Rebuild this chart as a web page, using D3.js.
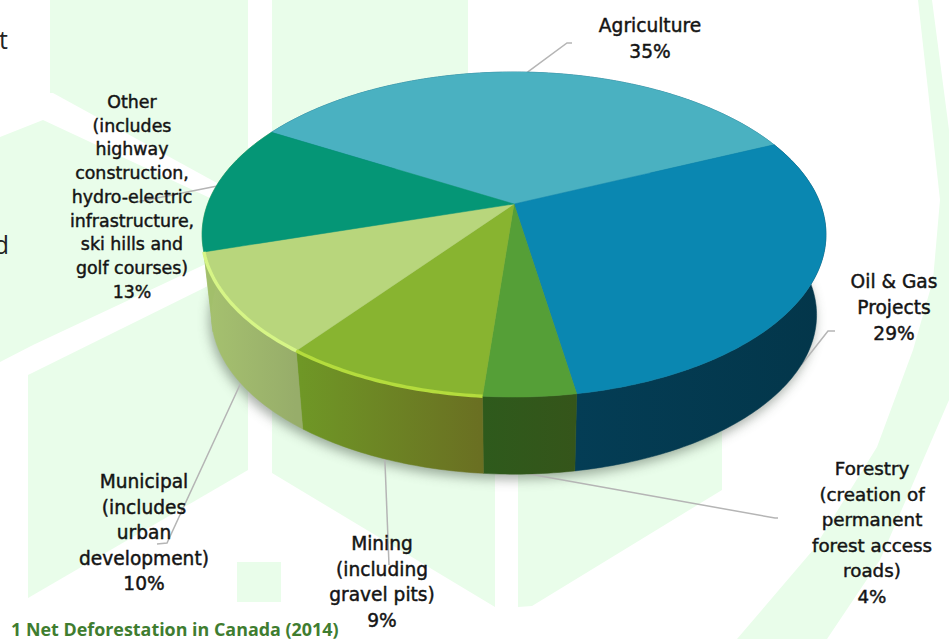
<!DOCTYPE html>
<html>
<head>
<meta charset="utf-8">
<script src="https://cdn.jsdelivr.net/npm/d3@7/dist/d3.min.js"></script>
<style>
html,body{margin:0;padding:0;background:#fff;overflow:hidden}
svg{display:block}
text{font-family:"DejaVu Sans",sans-serif}
</style>
</head>
<body>
<svg id="chart" width="949" height="639"></svg>
<script>
// Net deforestation shares by cause, clockwise from the top-left of the pie
const categories = ["Agriculture", "Oil & Gas Projects", "Forestry", "Mining", "Municipal", "Other"];
const shares = [35, 29, 4, 9, 10, 13];
const labelLines = [
  ["Agriculture"],
  ["Oil & Gas", "Projects"],
  ["Forestry", "(creation of", "permanent", "forest access", "roads)"],
  ["Mining", "(including", "gravel pits)"],
  ["Municipal", "(includes", "urban", "development)"],
  ["Other", "(includes", "highway", "construction,", "hydro-electric", "infrastructure,", "ski hills and", "golf courses)"]
];
const caption = "1 Net Deforestation in Canada (2014)";

// Styling per slice: top face, wall gradient ends, rim highlight
const topColors  = ["#4ab1c1", "#0a87b1", "#559f37", "#88b430", "#b8d67c", "#059676"];
const wallLeft   = ["#0b5a78", "#043d55", "#2e5a1c", "#6f9826", "#a6c26f", "#a2bf6b"];
const wallRight  = ["#0b5a78", "#03364a", "#35551a", "#6a6f22", "#97ad6a", "#a2bf6b"];
const rimColors  = [null, null, null, "#b4dc3c", "#d6f586", null];

// Label block centres (first-line baseline), type size and line gap
const labelPos = [
  {x: 650, y: 32, size: 18.6, gap: 25.6},
  {x: 894, y: 288, size: 18.6, gap: 25.8},
  {x: 872, y: 475, size: 18.3, gap: 25.6},
  {x: 382, y: 550, size: 18.6, gap: 25.6},
  {x: 144, y: 488, size: 18.6, gap: 25.6},
  {x: 132, y: 108, size: 17.4, gap: 23.7}
];
const leaderEdge = ["top", "bottom", "bottom", "bottom", "bottom", "top"];
const leaderBends = [
  [[567, 43], [572, 43]],
  [[828, 331], [835, 331]],
  [[775, 518], [778, 518]],
  [[389, 565]],
  [[167, 543], [157, 544]],
  [[137, 202]]
];

// Watermark panels behind the chart
const washPanels = [
  [[50,0],[248,0],[248,200],[53,93],[50,93]],
  [[272,0],[468,0],[468,230],[272,230]],
  [[0,137],[43,120],[210,198],[210,262],[33,345],[0,362]],
  [[28,375],[210,285],[248,390],[248,470],[28,598]],
  [[272,380],[722,380],[722,490],[532,606],[518,607],[518,470],[495,470],[495,607],[272,473]],
  [[237,562],[281,562],[281,602],[237,602]],
  [[918,0],[932,0],[949,130],[949,400],[880,560],[827,639],[737,639],[813,550],[877,447],[913,350],[933,280],[940,200],[928,90]]
];

const svg = d3.select("#chart");
const defs = svg.append("defs");

// Perspective mapping of the tilted disc onto the page
const cx = 514, cy = 204;
const persp = 0.1877, depthScale = 156.8, widthScale = 306.4;
const wallShrinkX = 0.97, wallShrinkY = 0.98, wallDrop = 81;

function projectTop(theta) {
  const u = Math.sin(theta), v = -Math.cos(theta);
  const w = 1 - persp * v;
  return [cx + widthScale * u / w, cy + depthScale * v / w];
}
function projectBottom(theta) {
  const p = projectTop(theta);
  return [cx + (p[0] - cx) * wallShrinkX, cy + (p[1] - cy) * wallShrinkY + wallDrop];
}
function arcPoints(project, a0, a1) {
  const n = Math.max(4, Math.ceil((a1 - a0) / 0.015));
  return d3.range(n + 1).map(i => project(a0 + (a1 - a0) * i / n));
}
const line = d3.line();

const pie = d3.pie().sort(null).startAngle(-Math.PI / 3).endAngle(2 * Math.PI - Math.PI / 3);
const slices = pie(shares);

// Soft shadow falling under the disc
defs.append("filter").attr("id", "shadow").attr("x", "-10%").attr("y", "-10%").attr("width", "120%").attr("height", "125%")
  .append("feGaussianBlur").attr("stdDeviation", 6);
defs.append("filter").attr("id", "soft").append("feGaussianBlur").attr("stdDeviation", 0.7);

svg.append("g").selectAll("path").data(washPanels).join("path")
  .attr("d", d => line(d) + "Z").attr("fill", "#e9fdea");

// Cropped words of the neighbouring page text
svg.append("text").attr("x", 8).attr("y", 49).attr("text-anchor", "end")
  .attr("font-size", 25).style("font-family", "'Open Sans'").attr("fill", "#222").text("t");
svg.append("text").attr("x", 9).attr("y", 254).attr("text-anchor", "end")
  .attr("font-size", 25).style("font-family", "'Open Sans'").attr("fill", "#222").text("d");

svg.append("path")
  .attr("d", line(arcPoints(projectBottom, 0, 2 * Math.PI)) + "Z")
  .attr("transform", "translate(-2,5)")
  .attr("fill", "#4b5a4b").attr("opacity", 0.5).attr("filter", "url(#shadow)");

// Leader lines run from the mid-angle of each slice to its label
const leaders = svg.append("g");
slices.forEach((s, i) => {
  const mid = (s.startAngle + s.endAngle) / 2;
  const start = leaderEdge[i] === "top" ? projectTop(mid) : projectBottom(mid);
  leaders.append("path").attr("d", line([start, ...leaderBends[i]]))
    .attr("fill", "none").attr("stroke", "#b5b5b5").attr("stroke-width", 1.5);
});

// Walls first, then the top face over them
const walls = svg.append("g");
slices.forEach((s, i) => {
  const topEdge = arcPoints(projectTop, s.startAngle, s.endAngle);
  const botEdge = arcPoints(projectBottom, s.startAngle, s.endAngle).reverse();
  const xs = topEdge.map(p => p[0]);
  const id = "wall" + i;
  const g = defs.append("linearGradient").attr("id", id).attr("gradientUnits", "userSpaceOnUse")
    .attr("x1", d3.min(xs)).attr("x2", d3.max(xs)).attr("y1", 0).attr("y2", 0);
  g.append("stop").attr("offset", 0).attr("stop-color", wallLeft[i]);
  g.append("stop").attr("offset", 1).attr("stop-color", wallRight[i]);
  walls.append("path").attr("d", line(topEdge.concat(botEdge)) + "Z")
    .attr("fill", `url(#${id})`).attr("stroke", `url(#${id})`).attr("stroke-width", 0.5);
});

const faces = svg.append("g");
slices.forEach((s, i) => {
  const edge = arcPoints(projectTop, s.startAngle, s.endAngle);
  faces.append("path").attr("d", line([[cx, cy], ...edge]) + "Z")
    .attr("fill", topColors[i]).attr("stroke", topColors[i]).attr("stroke-width", 0.5);
});
const rims = svg.append("g").attr("filter", "url(#soft)");
slices.forEach((s, i) => {
  if (!rimColors[i]) return;
  rims.append("path").attr("d", line(arcPoints(projectTop, s.startAngle, s.endAngle)))
    .attr("fill", "none").attr("stroke", rimColors[i]).attr("stroke-width", 3.4).attr("stroke-linecap", "butt");
});

// Labels: text block followed by the percentage
const labels = svg.append("g").attr("text-anchor", "middle").attr("fill", "#141414").attr("font-weight", 500);
categories.forEach((c, i) => {
  const rows = labelLines[i].concat(shares[i] + "%");
  const pos = labelPos[i];
  labels.selectAll(null).data(rows).join("text")
    .attr("x", pos.x)
    .attr("y", (d, k) => pos.y + k * pos.gap)
    .attr("font-size", pos.size)
    .attr("stroke", "#141414").attr("stroke-width", 0.45)
    .text(d => d);
});

svg.append("text").attr("x", 11).attr("y", 635.5)
  .style("font-family", "'Open Sans'").attr("font-weight", 700).attr("font-size", 17.9)
  .attr("fill", "#3f7d30").text(caption);
</script>
</body>
</html>
